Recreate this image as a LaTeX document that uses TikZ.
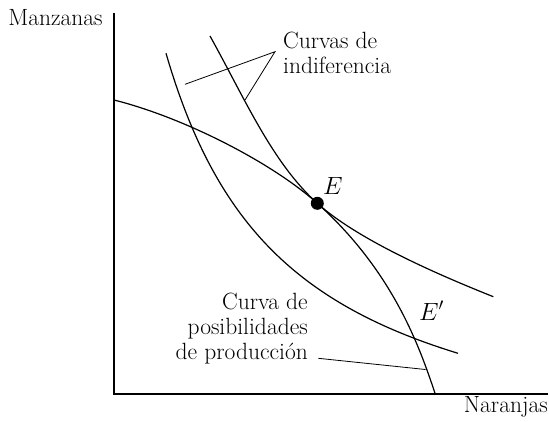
\documentclass[tikz,border=0pt]{standalone}
\begin{document}
\begin{tikzpicture}[x=1pt,y=-1pt,
  curve/.style={line width=1.2pt,line join=round},
  axis/.style={line width=1.4pt},
  leader/.style={line width=0.8pt},
  lbl/.style={inner sep=0pt,font=\fontsize{23.5}{25}\selectfont},
  dot/.style={circle,fill=black,inner sep=0pt,minimum size=13pt}]
\useasboundingbox (0,0) rectangle (549,421);
% axes
\coordinate (top) at (114,13);
\coordinate (O) at (114,394);
\coordinate (right) at (548,394);
\draw[axis] (top) -- (O) -- (right);
\node[lbl,anchor=base] (ylab) at (55.5,25) {Manzanas};
\node[lbl,anchor=base east] (xlab) at (548,412) {Naranjas};
% equilibrium point
\coordinate (Ec) at (317.3,203.3);
% production possibilities curve
\draw[curve] (114,100) .. controls (184,117.5) and (272.3,162.8) .. (Ec)
  .. controls (392.3,270.8) and (419,345) .. (435,393.3);
% outer indifference curve
\draw[curve] (210,36) .. controls (245,99) and (272.3,162.8) .. (Ec)
  .. controls (359.3,241.1) and (443.3,276.7) .. (493.3,296.7);
% inner indifference curve
\draw[curve] plot[domain=166:458,samples=90] (\x,{480.7-530/((\x-42)/100)});
\node[dot] (E) at (Ec) {};
\node[lbl,anchor=base west] (Elab) at (323,194) {$E$};
\node[lbl,anchor=base west] (Eplab) at (419,320) {$E'$};
% labels
\node[lbl,anchor=north west,align=left] (ic) at (283,32.3) {Curvas de\\indiferencia};
\node[lbl,anchor=north east,align=right] (ppf) at (308,293.3) {Curva de\\posibilidades\\de producción};
% leader lines
\coordinate (apex) at (275,51.7);
\coordinate (icA) at (185,84.3);
\coordinate (icB) at (245,100);
\draw[leader] (icA) -- (apex) -- (icB);
\coordinate (ppfA) at (318.3,358.3);
\coordinate (ppfB) at (425.5,369.5);
\draw[leader] (ppfA) -- (ppfB);
\end{tikzpicture}
\end{document}
